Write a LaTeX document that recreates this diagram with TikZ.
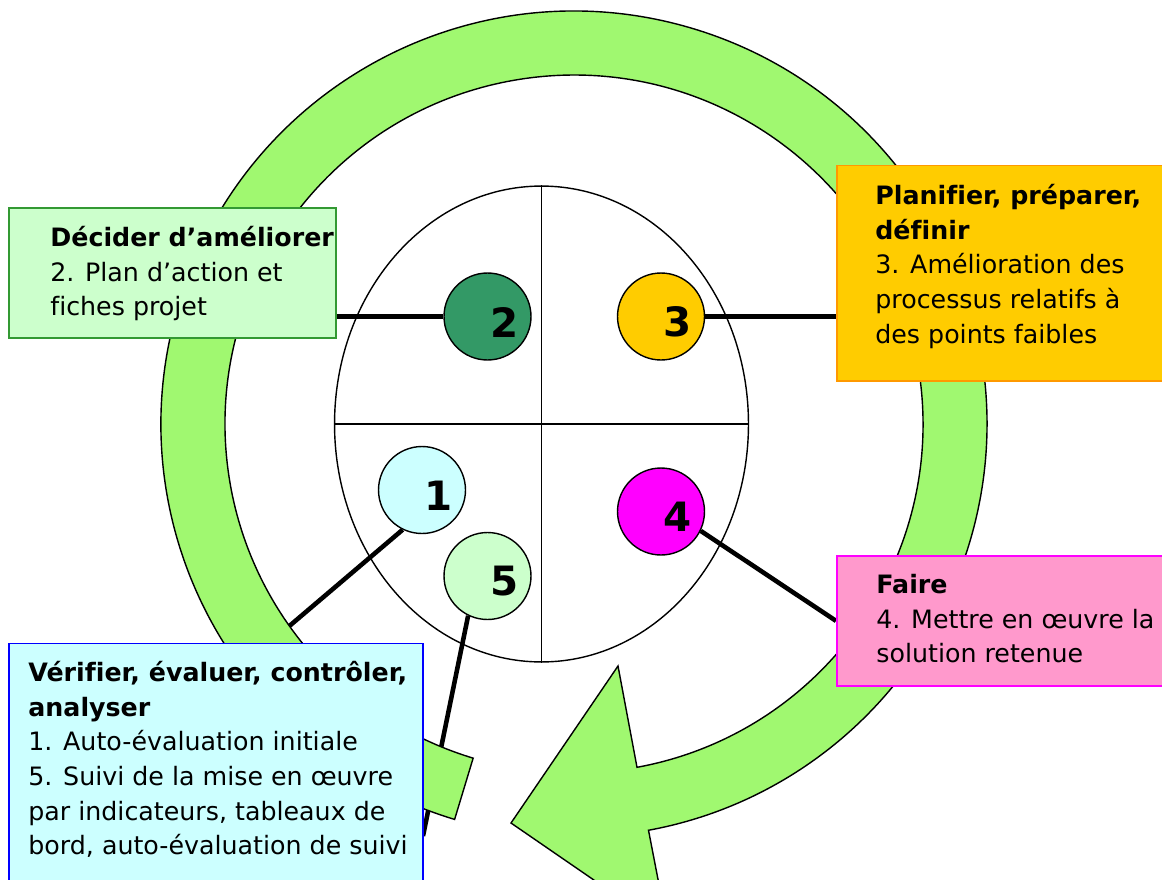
\documentclass[tikz,border=0pt]{standalone}
\usepackage{fontspec}
\setmainfont{DejaVu Sans}[Ligatures=NoCommon]
\usetikzlibrary{shapes.geometric}
\definecolor{ringgreen}{RGB}{160,248,112}
\definecolor{decidefill}{RGB}{204,255,204}
\definecolor{decideline}{RGB}{51,153,51}
\definecolor{darkgreen}{RGB}{51,153,102}
\definecolor{planfill}{RGB}{255,204,0}
\definecolor{planline}{RGB}{255,153,0}
\definecolor{dofill}{RGB}{255,153,204}
\definecolor{doline}{RGB}{255,0,255}
\definecolor{checkfill}{RGB}{204,255,255}
\definecolor{checkline}{RGB}{0,0,255}
\pgfdeclarelayer{back}
\pgfdeclarelayer{mid}
\pgfsetlayers{back,mid,main}
\tikzset{
  stage/.style={circle, draw, line width=0.8pt, minimum size=1.74cm, inner sep=0pt},
  stagenum/.style={inner sep=0pt, font=\fontsize{23}{23}\selectfont\bfseries},
  infobox/.style={rectangle, line width=1pt, anchor=north west, inner sep=0pt},
  infotext/.style={anchor=north west, align=left, inner sep=0pt, font=\fontsize{14.4}{19.7}\selectfont},
  link/.style={line width=2.6pt}
}
\begin{document}
\begin{tikzpicture}[x=0.02cm,y=-0.02cm]
\useasboundingbox (0,0) rectangle (1162,879);
% wheel with its four quarters
\begin{pgfonlayer}{back}
\node[ellipse, draw, fill=white, line width=0.8pt, minimum width=8.28cm, minimum height=9.52cm, inner sep=0pt] (wheel) at (541.5,424) {};
\draw[line width=0.8pt] (wheel.north) -- (wheel.south);
\draw[line width=0.8pt] (wheel.west) -- (wheel.east);
\end{pgfonlayer}
% stages
\node[stage, fill=checkfill] (c1) at (422,490) {};
\node[stage, fill=darkgreen] (c2) at (487.5,316.5) {};
\node[stage, fill=planfill] (c3) at (661,316.5) {};
\node[stage, fill=doline] (c4) at (661,511.5) {};
\node[stage, fill=decidefill] (c5) at (487.5,576) {};
\node[stagenum] (n1) at ([shift={(17,5.5)}]c1.center) {1};
\node[stagenum] (n2) at ([shift={(17,5.5)}]c2.center) {2};
\node[stagenum] (n3) at ([shift={(17,5.5)}]c3.center) {3};
\node[stagenum] (n4) at ([shift={(17,5.5)}]c4.center) {4};
\node[stagenum] (n5) at ([shift={(17,5.5)}]c5.center) {5};
% boxes
\node[infobox, fill=decidefill, draw=decideline, minimum width=6.54cm, minimum height=2.6cm] (dbox) at (8,207) {};
\node[infobox, fill=planfill, draw=planline, minimum width=6.52cm, minimum height=4.32cm] (pbox) at (836,164.5) {};
\node[infobox, fill=dofill, draw=doline, minimum width=6.52cm, minimum height=2.6cm] (fbox) at (836,555) {};
\node[infobox, fill=checkfill, draw=checkline, minimum width=8.28cm, minimum height=5.4cm] (vbox) at (8,642.5) {};
\node[infotext] (dtext) at (50,226) {\textbf{Décider d’améliorer}\\2. Plan d’action et\\fiches projet};
\node[infotext] (ptext) at (875,184) {\textbf{Planifier, préparer,}\\\textbf{définir}\\3. Amélioration des\\processus relatifs à\\des points faibles};
\node[infotext] (ftext) at (876,574) {\textbf{Faire}\\4. Mettre en œuvre la\\solution retenue};
\node[infotext] (vtext) at (28,661) {\textbf{Vérifier, évaluer, contrôler,}\\\textbf{analyser}\\1. Auto-évaluation initiale\\5. Suivi de la mise en œuvre\\par indicateurs, tableaux de\\bord, auto-évaluation de suivi};
% links
\coordinate (l1end) at (287,628);
\coordinate (l5end) at (423,836);
\begin{pgfonlayer}{back}
\draw[link] (c2.west) -- (c2.west -| dbox.east);
\draw[link] (c3.east) -- (c3.east -| pbox.west);
\draw[link] (c4.-26) -- (fbox.west);
\draw[link] (c1.-116) -- (l1end);
\draw[link] (c5.-116) -- (l5end);
\end{pgfonlayer}
% circular arrow
\begin{pgfonlayer}{mid}
\filldraw[fill=ringgreen, line width=0.8pt, line join=miter] (454.6,819.4) arc[start angle=106.8, end angle=439.6, radius=413] -- (668,931) -- (511,823) -- (618,666) -- (637,767.3) arc[start angle=439.6, end angle=106.8, radius=349] -- cycle;
\end{pgfonlayer}
\end{tikzpicture}
\end{document}
